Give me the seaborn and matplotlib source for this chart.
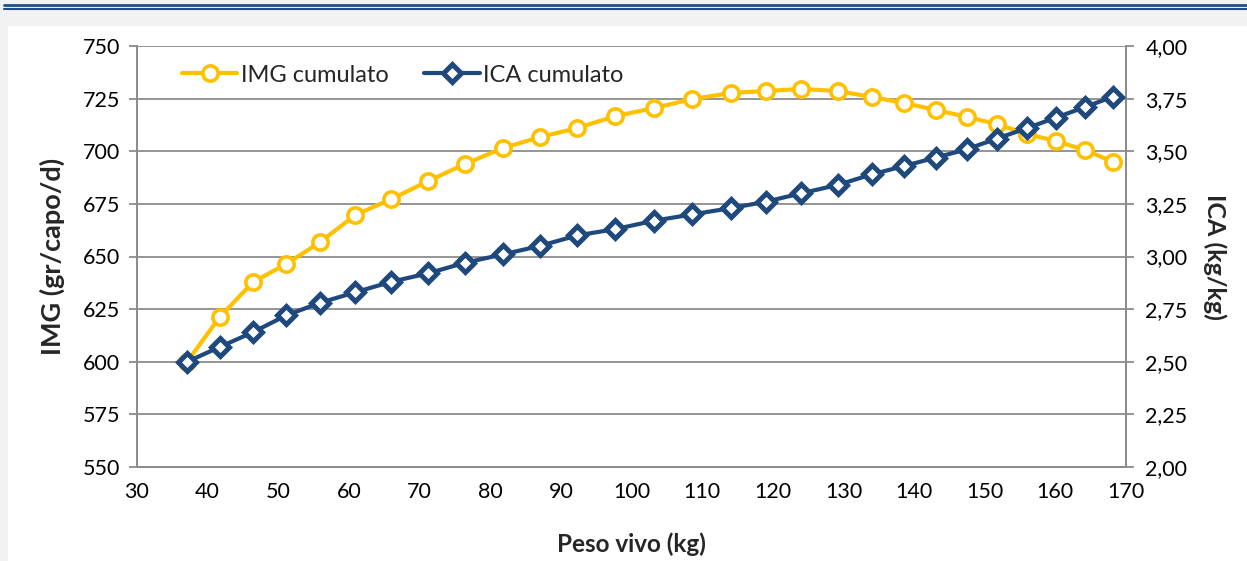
import matplotlib
matplotlib.use("Agg")
import matplotlib.pyplot as plt
import seaborn as sns
import pandas as pd
from matplotlib.lines import Line2D

peso = [37.1, 41.7, 46.4, 51.1, 55.9, 60.9, 66.0, 71.2, 76.4, 81.8, 87.0, 92.3,
        97.7, 103.2, 108.6, 114.1, 119.0, 124.0, 129.2, 134.0, 138.6, 143.1,
        147.5, 151.7, 156.0, 160.1, 164.2, 168.2]
img = [600.0, 621.2, 637.8, 646.4, 656.8, 669.7, 677.3, 685.8, 693.9, 701.5,
       706.7, 711.0, 716.7, 720.5, 724.8, 727.7, 728.6, 729.6, 728.6, 725.8,
       722.9, 719.6, 716.3, 712.9, 708.2, 704.8, 700.6, 694.9]
ica = [2.50, 2.57, 2.64, 2.72, 2.78, 2.83, 2.88, 2.92, 2.97, 3.01, 3.05, 3.10,
       3.13, 3.17, 3.20, 3.23, 3.26, 3.30, 3.34, 3.39, 3.43, 3.47, 3.51, 3.56,
       3.61, 3.66, 3.71, 3.76]

x_ticks = list(range(30, 171, 10))
left_ticks = list(range(550, 751, 25))
right_ticks = [2.00, 2.25, 2.50, 2.75, 3.00, 3.25, 3.50, 3.75, 4.00]
right_labels = ["2,00", "2,25", "2,50", "2,75", "3,00", "3,25", "3,50", "3,75", "4,00"]

df = pd.DataFrame({"peso": peso, "img": img, "ica": ica})

sns.set_style("white")
plt.rcParams["font.family"] = ["Lato", "DejaVu Sans"]

YEL = "#FFC000"
BLU = "#1F497D"
GRID = "#8C8C8C"
W, H = 1247, 561

fig = plt.figure(figsize=(12.47, 5.61), dpi=100)
fig.patch.set_facecolor("#F2F2F2")
# white panel
fig.add_artist(plt.Rectangle((8 / W, 0), 1 - 8 / W, 1 - 26 / H,
                             transform=fig.transFigure, facecolor="white",
                             edgecolor="none", zorder=-5))
# double blue rule at top
for yy, lw in [(5.3, 2.0), (9.2, 1.5)]:
    fig.add_artist(Line2D([4 / W, 1], [1 - yy / H, 1 - yy / H],
                          transform=fig.transFigure, color="#1F4E8C", lw=lw,
                          zorder=-4))

ax = fig.add_axes([137 / W, 1 - 467 / H, (1126 - 137) / W, (467 - 46) / H])
ax.set_facecolor("none")
ax2 = ax.twinx()

mk_img = dict(marker="o", markersize=11, markerfacecolor="white",
              markeredgecolor=YEL, markeredgewidth=2.6)
mk_ica = dict(marker="D", markersize=9.5, markerfacecolor="white",
              markeredgecolor=BLU, markeredgewidth=3.6)

sns.lineplot(data=df, x="peso", y="img", ax=ax, color=YEL, lw=3.0, zorder=3,
             **mk_img)
sns.lineplot(data=df, x="peso", y="ica", ax=ax2, color=BLU, lw=3.0, zorder=3,
             **mk_ica)

ax.set_xlim(30, 170)
ax.set_ylim(550, 750)
ax2.set_ylim(2.0, 4.0)
ax.set_xticks(x_ticks)
ax.set_xticklabels([str(v) for v in x_ticks])
ax.set_yticks(left_ticks)
ax.set_yticklabels([str(v) for v in left_ticks])
ax2.set_yticks(right_ticks)
ax2.set_yticklabels(right_labels)

ax.grid(axis="y", color=GRID, lw=1.3)
ax.grid(axis="x", visible=False)
ax2.grid(False)
ax.set_axisbelow(True)

for a in (ax, ax2):
    for s in a.spines.values():
        s.set_color(GRID)
        s.set_linewidth(1.3)
    a.tick_params(colors=GRID, labelcolor="black", labelsize=15.5, length=6,
                  width=1.3, direction="out")
ax.spines["top"].set_visible(False)
ax2.spines["top"].set_visible(False)
ax.tick_params(axis="y", pad=6)
ax.tick_params(axis="x", pad=5)
ax2.tick_params(axis="y", pad=8)

ax.set_xlabel("Peso vivo (kg)", fontsize=17.5, fontweight="bold")
ax.xaxis.set_label_coords(0.5, 0, transform=fig.transFigure)
ax.xaxis.label.set_position((631 / W, 1 - 544 / H))
ax.xaxis.label.set_va("center")
ax.set_ylabel("IMG (gr/capo/d)", fontsize=19.5, fontweight="bold")
ax.yaxis.set_label_coords(52 / W, 1 - 256 / H, transform=fig.transFigure)
ax.yaxis.label.set_va("center")
ax2.set_ylabel("ICA (kg/kg)", fontsize=18, fontweight="bold", rotation=270)
ax2.yaxis.set_label_coords(1215 / W, 1 - 257 / H, transform=fig.transFigure)
ax2.yaxis.label.set_va("center")

handles = [Line2D([], [], color=YEL, lw=3.0, **mk_img),
           Line2D([], [], color=BLU, lw=3.0, **mk_ica)]
fig.legend(handles, ["IMG cumulato", "ICA cumulato"], ncol=2, frameon=False,
           loc="center left", bbox_to_anchor=(182 / W, 1 - 75 / H),
           borderpad=0, borderaxespad=0, fontsize=17,
           handlelength=2.35, handletextpad=0.15, columnspacing=1.5)

fig.savefig("out.png", dpi=100, facecolor=fig.get_facecolor())
